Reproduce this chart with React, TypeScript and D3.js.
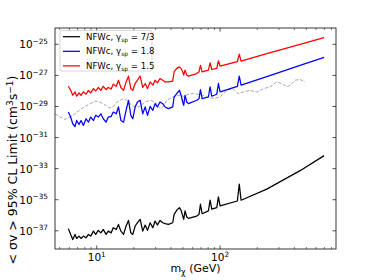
import React from 'react';
import * as d3 from 'd3';

const W = 374;
const H = 280;
const PLOT = { left: 55, right: 336, top: 28, bottom: 249 };

// Dark-matter mass grid (GeV)
const massGeV = [
  5.89, 6.15, 6.39, 6.67, 6.88, 7.19, 7.46, 7.8, 8.19, 8.56, 8.94, 9.4, 9.81, 10.3, 10.8, 11.3, 11.9, 12.4, 13.1, 13.6, 14.4,
  15.0, 15.7, 16.5, 17.3, 18.1, 18.9, 19.6, 20.5, 21.4, 22.5, 23.6, 24.7, 25.8, 27.1, 28.5, 29.7, 31.0, 32.6, 34.3, 35.8,
  38.1, 41.3, 42.4, 44.5, 46.8, 48.3, 49.8, 50.7, 52.0, 53.7, 55.4,
  64.7, 67.5, 69.3, 71.5, 80.4, 83.0, 85.6, 94.0, 96.9, 100, 138, 143, 148, 239, 445, 697,
];

// log10 of <σv> limit (cm^3 s^-1), NFWc γsp = 7/3
const nfwc73Log10 = [
  -36.87, -37.23, -37.56, -37.23, -37.49, -37.34, -37.49, -37.34, -37.45, -37.23, -37.34, -37.02, -37.23, -36.97, -37.13, -36.91, -37.23, -37.02, -37.13, -36.8, -36.91,
  -36.59, -37.02, -37.23, -36.69, -36.33, -37.13, -37.23, -36.69, -36.48, -36.26, -37.02, -36.63, -36.97, -36.48, -36.8, -36.37, -36.63, -36.33, -36.48, -36.54,
  -36.59, -36.48, -35.94, -35.68, -35.51, -35.68, -36.05, -36.26, -35.72, -36.11, -36.2,
  -36.05, -35.94, -35.29, -35.9, -35.72, -35.03, -35.61, -35.51, -34.82, -35.4, -35.08, -34.0, -35.03, -34.32, -33.13, -32.16,
];

// NFWc γsp = 1.8
const nfwc18Log10 = [
  -29.36, -29.68, -30.11, -30.29, -29.9, -30.16, -29.9, -30.22, -29.79, -30.01, -29.68, -29.9, -29.57, -29.68, -29.47, -29.79, -30.01, -29.68, -29.64, -29.36, -29.47,
  -29.03, -29.9, -30.01, -29.25, -28.6, -29.57, -29.79, -29.03, -28.71, -28.6, -29.47, -29.03, -29.57, -28.99, -29.25, -28.82, -29.03, -28.71, -28.82, -29.03,
  -29.14, -29.03, -28.39, -28.17, -27.96, -28.28, -28.71, -28.93, -28.28, -28.71, -28.82,
  -28.6, -28.5, -27.91, -28.5, -28.39, -27.74, -28.34, -28.21, -27.52, -28.06, -27.7, -27.05, -27.63, -27.08, -26.36, -25.84,
];

// NFWc γsp = 1.5
const nfwc15Log10 = [
  -27.7, -27.96, -28.28, -28.06, -28.34, -28.13, -28.28, -28.06, -28.21, -27.96, -28.13, -27.85, -28.0, -27.78, -27.96, -27.7, -27.91, -27.78, -27.87, -27.57, -27.7,
  -27.31, -27.78, -27.96, -27.42, -27.05, -27.85, -27.96, -27.52, -27.31, -27.05, -27.78, -27.52, -27.85, -27.42, -27.63, -27.31, -27.48, -27.2, -27.31, -27.42,
  -27.42, -27.37, -26.77, -26.55, -26.45, -26.55, -26.77, -26.98, -26.66, -26.98, -27.05,
  -26.88, -26.77, -26.36, -26.77, -26.66, -26.19, -26.62, -26.55, -26.06, -26.4, -26.12, -25.63, -26.08, -25.6, -25.0, -24.57,
];

// Reference (gray dashed) limit
const refMassGeV = [
  4.59, 5.05, 5.53, 6.08, 6.67, 7.32, 8.05, 8.83, 9.69, 10.6, 11.3, 12.1, 12.8, 13.7, 14.5, 15.5, 16.4, 17.5, 18.6, 19.8, 21.1,
  22.5, 24.6, 27.1, 29.7, 32.6, 34.7, 36.9, 40.6, 44.5, 48.9, 50.4, 55.0, 60.8, 66.4, 72.8, 80.0, 88.3, 100, 113, 127, 140,
  153, 175, 199, 225, 254, 288, 316, 347, 370, 406, 445, 489,
];
const refLog10 = [
  -29.47, -29.68, -29.83, -29.68, -29.47, -29.21, -28.99, -28.82, -28.65, -28.72, -28.82, -28.99, -29.1, -28.99, -28.72, -28.6, -28.49, -28.6, -28.82, -28.99, -29.04,
  -28.99, -28.72, -28.6, -28.72, -29.14, -28.99, -28.6, -28.43, -28.3, -28.26, -28.39, -28.21, -28.17, -28.21, -28.28, -28.41, -28.49, -28.39, -27.96, -27.85, -28.17,
  -28.07, -27.96, -28.07, -27.85, -27.74, -27.42, -27.52, -27.74, -27.63, -27.31, -27.26, -27.42,
];

const xMajorTicks = [10, 100];
const xTickExponents = ['1', '2'];
const xMinorTicks = [5, 6, 7, 8, 9, 20, 30, 40, 50, 60, 70, 80, 90, 200, 300, 400, 500, 600, 700, 800];
const yTickExponents = [-37, -35, -33, -31, -29, -27, -25];

const seriesColors = ['#000000', '#0000ff', '#ff0000'];
const legendValues = ['7/3', '1.8', '1.5'];

export default function App() {
  const x = d3.scaleLog().domain([4.59, 870]).range([PLOT.left, PLOT.right]);
  const y = d3.scaleLog().domain([Math.pow(10, -38.17), Math.pow(10, -23.95)]).range([PLOT.bottom, PLOT.top]);

  const line = d3
    .line<[number, number]>()
    .x((d) => x(d[0]))
    .y((d) => y(Math.pow(10, d[1])));

  const series = [nfwc73Log10, nfwc18Log10, nfwc15Log10];
  const refPts: [number, number][] = refMassGeV.map((m, i) => [m, refLog10[i]]);

  const font = 'DejaVu Sans, sans-serif';
  const frame = '#222';

  return (
    <svg width={W} height={H} style={{ position: 'absolute', left: 0, top: 0, background: '#fff' }} fontFamily={font}>
      <defs>
        <clipPath id="plotclip">
          <rect x={PLOT.left} y={PLOT.top} width={PLOT.right - PLOT.left} height={PLOT.bottom - PLOT.top} />
        </clipPath>
      </defs>
      <g clipPath="url(#plotclip)">
        <path d={line(refPts) || ''} fill="none" stroke="#a8a8a8" strokeWidth={1} strokeDasharray="3.5,1.6" />
        {series.map((s, k) => (
          <path
            key={k}
            d={line(massGeV.map((m, i) => [m, s[i]] as [number, number])) || ''}
            fill="none"
            stroke={seriesColors[k]}
            strokeWidth={1.25}
            strokeLinejoin="round"
          />
        ))}
      </g>
      {/* frame */}
      <rect
        x={PLOT.left}
        y={PLOT.top}
        width={PLOT.right - PLOT.left}
        height={PLOT.bottom - PLOT.top}
        fill="none"
        stroke={frame}
        strokeWidth={0.9}
      />
      {/* x ticks */}
      {xMajorTicks.map((t) => (
        <g key={'xM' + t}>
          <line x1={x(t)} x2={x(t)} y1={PLOT.bottom} y2={PLOT.bottom - 3.5} stroke={frame} strokeWidth={0.8} />
          <line x1={x(t)} x2={x(t)} y1={PLOT.top} y2={PLOT.top + 3.5} stroke={frame} strokeWidth={0.8} />
        </g>
      ))}
      {xMinorTicks.map((t) => (
        <g key={'xm' + t}>
          <line x1={x(t)} x2={x(t)} y1={PLOT.bottom} y2={PLOT.bottom - 2} stroke={frame} strokeWidth={0.6} />
          <line x1={x(t)} x2={x(t)} y1={PLOT.top} y2={PLOT.top + 2} stroke={frame} strokeWidth={0.6} />
        </g>
      ))}
      {xMajorTicks.map((t, i) => (
        <text key={'xl' + t} x={x(t)} y={261} textAnchor="middle" fontSize={10.5} fill="#000">
          10<tspan dy={-4.5} fontSize={7.3}>{xTickExponents[i]}</tspan>
        </text>
      ))}
      {/* y ticks */}
      {yTickExponents.map((e) => {
        const yy = y(Math.pow(10, e));
        return (
          <g key={'y' + e}>
            <line x1={PLOT.left} x2={PLOT.left + 3.5} y1={yy} y2={yy} stroke={frame} strokeWidth={0.8} />
            <line x1={PLOT.right} x2={PLOT.right - 3.5} y1={yy} y2={yy} stroke={frame} strokeWidth={0.8} />
            <text x={48} y={yy + 4} textAnchor="end" fontSize={10.5} fill="#000">
              10<tspan dy={-4.5} fontSize={7.3}>{'\u2212' + Math.abs(e)}</tspan>
            </text>
          </g>
        );
      })}
      {/* axis labels */}
      <text x={(PLOT.left + PLOT.right) / 2} y={272} textAnchor="middle" fontSize={11} fill="#000">
        m<tspan dy={2.5} fontSize={8}>χ</tspan>
        <tspan dy={-2.5}> (GeV)</tspan>
      </text>
      <text transform="translate(17,170) rotate(-90)" textAnchor="middle" fontSize={12.5} fill="#000">
        {'< σv >  95% CL Limit (cm'}
        <tspan dy={-4.5} fontSize={9}>3</tspan>
        <tspan dy={4.5}>s</tspan>
        <tspan dy={-4.5} fontSize={9}>{'\u22121'}</tspan>
        <tspan dy={4.5}>)</tspan>
      </text>
      {/* legend */}
      <rect x={60} y={30.5} width={92} height={40.5} rx={2} fill="#fff" fillOpacity={0.8} stroke="#cccccc" strokeWidth={0.8} />
      {legendValues.map((v, i) => {
        const yy = 36.7 + i * 14.6;
        return (
          <g key={'lg' + i}>
            <line x1={63} x2={80} y1={yy} y2={yy} stroke={seriesColors[i]} strokeWidth={1.25} />
            <text x={86} y={yy + 3} fontSize={8.6} fill="#000">
              {'NFWc, γ'}
              <tspan dy={2} fontSize={6}>sp</tspan>
              <tspan dy={-2}>{' = ' + v}</tspan>
            </text>
          </g>
        );
      })}
    </svg>
  );
}
